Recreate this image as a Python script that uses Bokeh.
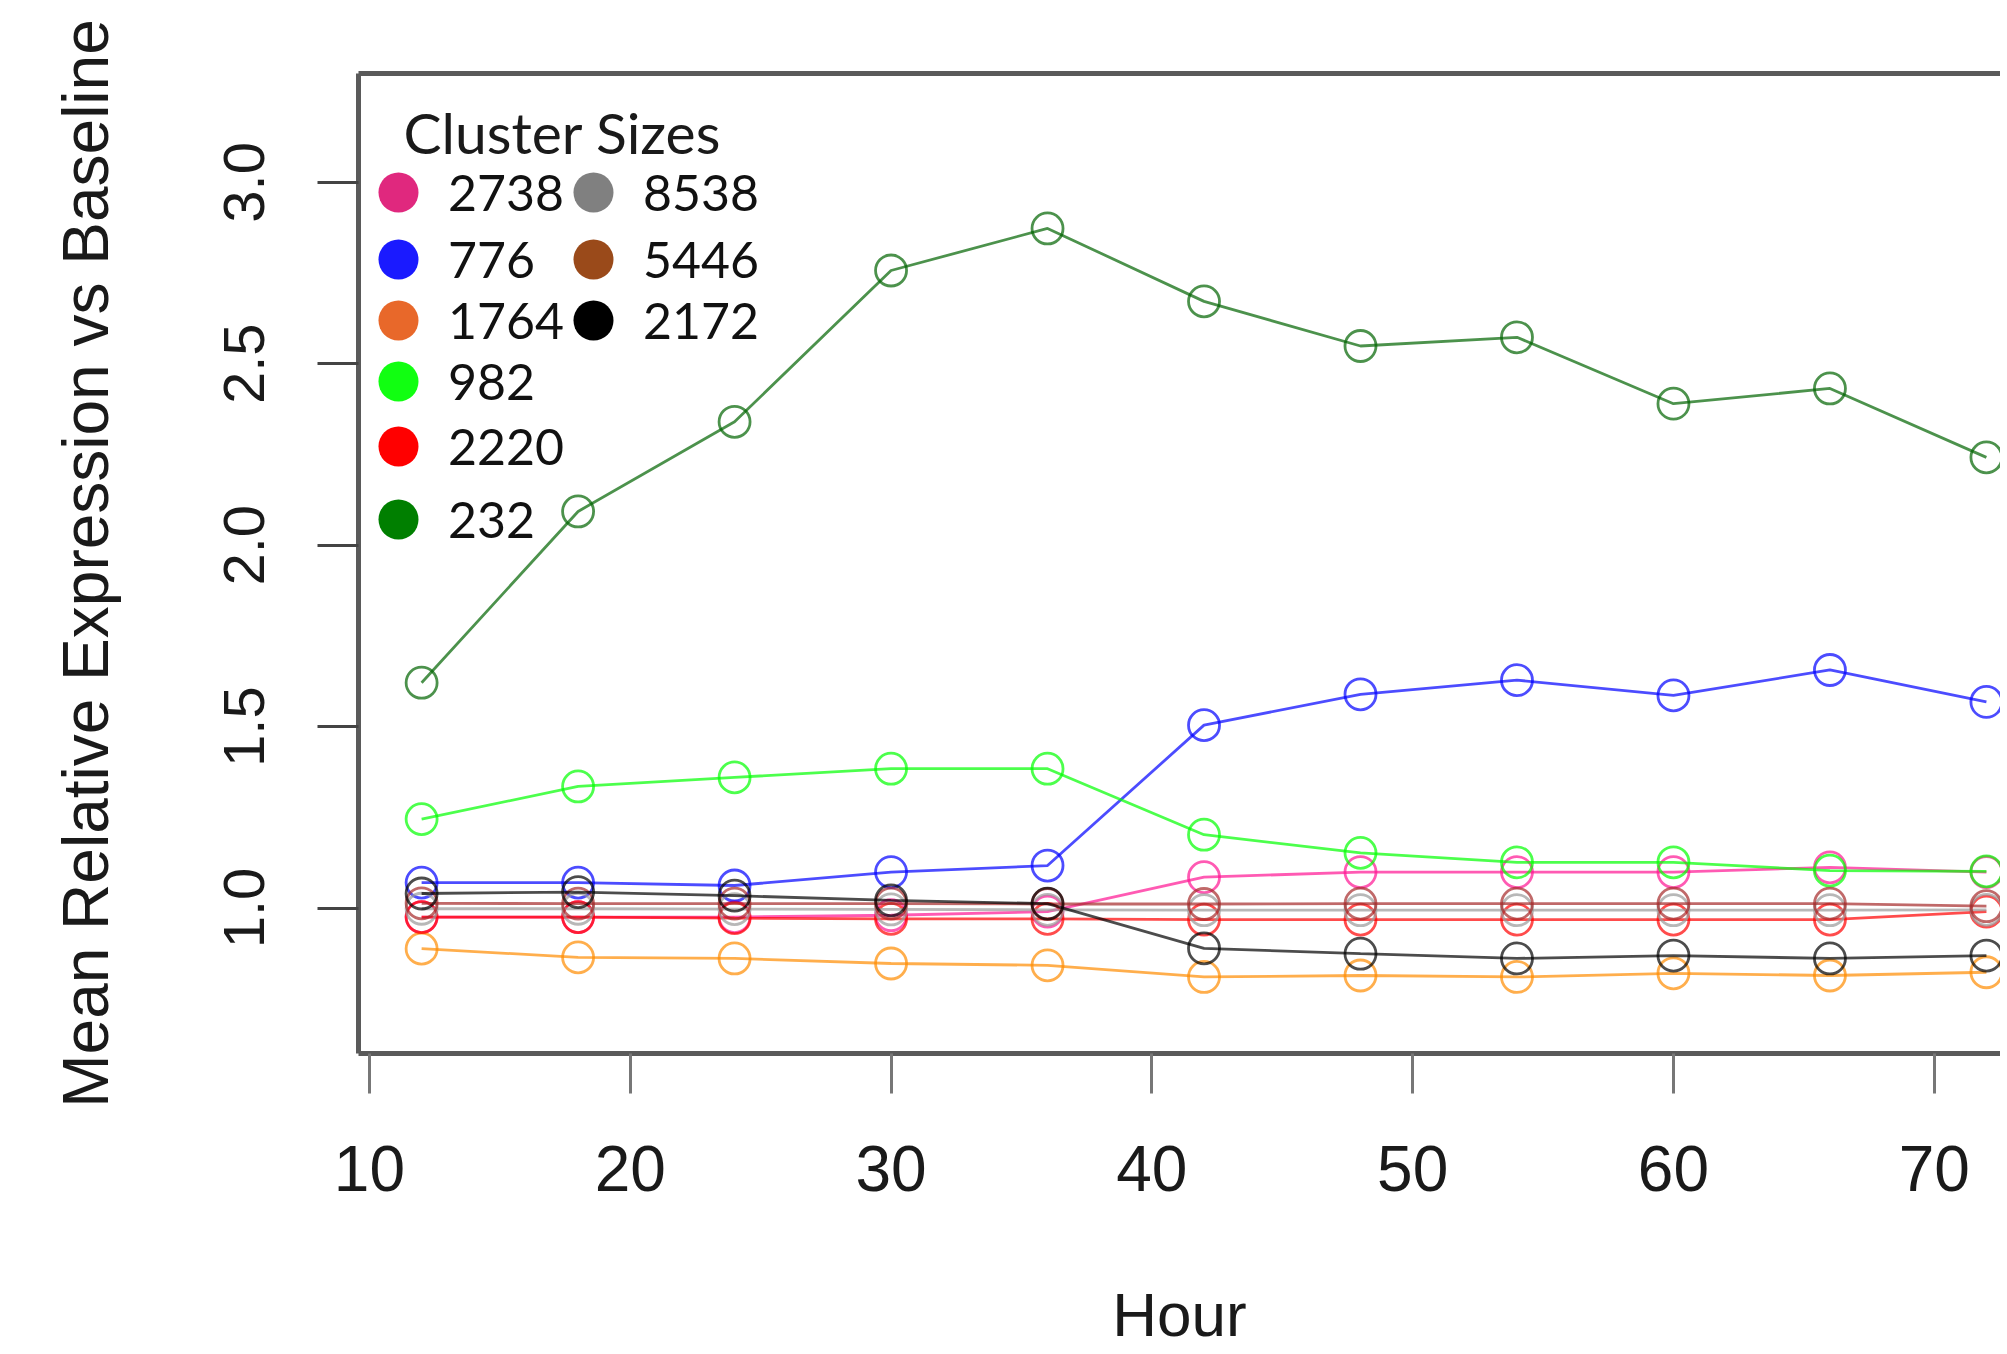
from bokeh.plotting import figure
from bokeh.models import (Range1d, LinearAxis, FixedTicker, Legend, LegendItem,
                          ColumnDataSource, Label, PrintfTickFormatter)
from bokeh.embed import file_html
from bokeh.resources import INLINE

# ---- data -------------------------------------------------------------
hours = [12, 18, 24, 30, 36, 42, 48, 54, 60, 66, 72]

c2738 = [0.975, 0.975, 0.975, 0.980, 0.990, 1.085, 1.099, 1.099, 1.099, 1.112, 1.099]
c776 = [1.070, 1.070, 1.062, 1.099, 1.117, 1.504, 1.589, 1.628, 1.586, 1.656, 1.568]
c1764 = [0.888, 0.864, 0.861, 0.847, 0.842, 0.810, 0.814, 0.810, 0.820, 0.814, 0.823]
c982 = [1.245, 1.335, 1.360, 1.384, 1.384, 1.202, 1.152, 1.126, 1.126, 1.103, 1.101]
c2220 = [0.975, 0.975, 0.972, 0.970, 0.970, 0.968, 0.968, 0.968, 0.968, 0.968, 0.990]
c232 = [1.621, 2.093, 2.340, 2.757, 2.873, 2.672, 2.549, 2.573, 2.390, 2.432, 2.242]
c8538 = [0.998, 0.998, 0.997, 0.996, 0.995, 0.994, 0.994, 0.994, 0.994, 0.994, 0.995]
c5446 = [1.013, 1.012, 1.012, 1.012, 1.011, 1.011, 1.012, 1.012, 1.012, 1.012, 1.005]
c2172 = [1.040, 1.044, 1.034, 1.021, 1.012, 0.889, 0.874, 0.861, 0.869, 0.861, 0.869]

series_labels = ["2738", "776", "1764", "982", "2220", "232", "8538", "5446", "2172"]
series_values = [c2738, c776, c1764, c982, c2220, c232, c8538, c5446, c2172]
line_colors = ["#FF1493", "#0000FF", "#FF8C00", "#00FF00", "#FF0000", "#006400",
               "#9A9A9A", "#A52A2A", "#000000"]
legend_colors = ["#E0287E", "#1A1AFF", "#E8682A", "#11FF11", "#FF0000", "#007F00",
                 "#808080", "#9A4A1A", "#000000"]

x_ticks = [10, 20, 30, 40, 50, 60, 70]
y_ticks = [1.0, 1.5, 2.0, 2.5, 3.0]
x_title = "Hour"
y_title = "Mean Relative Expression vs Baseline"
legend_title = "Cluster Sizes"

# ---- layout constants (page pixels) ----------------------------------
FRAME_LEFT, FRAME_TOP, FRAME_BOTTOM = 358, 73, 1053
FIG_W, FIG_H = 2000, 1354

p = figure(width=FIG_W, height=FIG_H, output_backend="svg", toolbar_location=None,
           x_range=Range1d(9.58, 72.54), y_range=Range1d(0.599, 3.30),
           min_border_left=FRAME_LEFT, min_border_top=FRAME_TOP,
           min_border_bottom=FIG_H - FRAME_BOTTOM, min_border_right=0)
p.outline_line_color = None
p.xgrid.visible = False
p.ygrid.visible = False
p.background_fill_color = "white"
p.border_fill_color = "white"

AX = "#5a5a5a"
FONT = "Liberation Sans"
TXT = "#1a1a1a"

xa = p.xaxis[0]
xa.ticker = FixedTicker(ticks=x_ticks)
xa.axis_label = x_title
xa.axis_line_color = AX
xa.axis_line_width = 5
xa.major_tick_line_color = "#777777"
xa.major_tick_line_width = 3
xa.major_tick_out = 40
xa.major_tick_in = 0
xa.minor_tick_line_color = None
xa.major_label_text_font = FONT
xa.major_label_text_font_size = "64px"
xa.major_label_text_color = TXT
xa.major_label_standoff = 52
xa.axis_label_text_font = FONT
xa.axis_label_text_font_size = "62px"
xa.axis_label_text_font_style = "normal"
xa.axis_label_text_color = TXT
xa.axis_label_standoff = 86

ya = p.yaxis[0]
ya.ticker = FixedTicker(ticks=y_ticks)
ya.formatter = PrintfTickFormatter(format="%.1f")
ya.axis_label = y_title
ya.axis_line_color = AX
ya.axis_line_width = 5
ya.major_tick_line_color = "#444444"
ya.major_tick_line_width = 3
ya.major_tick_out = 41
ya.major_tick_in = 0
ya.minor_tick_line_color = None
ya.major_label_orientation = "vertical"
ya.major_label_text_font = FONT
ya.major_label_text_font_size = "58px"
ya.major_label_text_color = TXT
ya.major_label_standoff = 53
ya.axis_label_text_font = FONT
ya.axis_label_text_font_size = "64px"
ya.axis_label_text_font_style = "normal"
ya.axis_label_text_color = TXT
ya.axis_label_standoff = 100

top = LinearAxis(ticker=FixedTicker(ticks=[]), axis_line_color=AX, axis_line_width=5,
                 major_tick_line_color=None, minor_tick_line_color=None,
                 major_label_text_font_size="0px")
p.add_layout(top, "above")

# ---- series -----------------------------------------------------------
legend_renderers = []
for lab, vals, col, lcol in zip(series_labels, series_values, line_colors, legend_colors):
    src = ColumnDataSource(dict(x=hours, y=vals))
    p.line("x", "y", source=src, line_color=col, line_alpha=0.7, line_width=2.8)
    p.scatter("x", "y", source=src, marker="circle", size=31, fill_color=None,
              line_color=col, line_alpha=0.7, line_width=2.8)
    # hidden renderer, only used to draw the legend swatch
    r = p.scatter("x", "y", source=src, marker="circle", size=10,
                  fill_color=lcol, line_color=None, visible=False)
    legend_renderers.append(r)

# ---- legend (one small legend per entry, arranged like the reference) --
ROW_CY = [192, 259, 320, 381, 446, 519]
COL_CX = [398, 593]
slots = [(0, 0), (0, 1), (0, 2), (0, 3), (0, 4), (0, 5), (1, 0), (1, 1), (1, 2)]
G = 100
for lab, r, (c, row) in zip(series_labels, legend_renderers, slots):
    cx, cy = COL_CX[c], ROW_CY[row]
    lg = Legend(items=[LegendItem(label=lab, renderers=[r])],
                location=(cx - G // 2 - FRAME_LEFT, FRAME_BOTTOM - cy - G // 2),
                glyph_width=G, glyph_height=G, label_standoff=-5, padding=0, margin=0,
                label_text_font="Lato", label_text_font_size="50px",
                label_text_color="#111111", click_policy="none",
                border_line_color=None, background_fill_alpha=0)
    p.add_layout(lg, "center")

p.add_layout(Label(x=45, y=FRAME_BOTTOM - 131, x_units="screen", y_units="screen",
                   text=legend_title, text_font="Lato", text_font_size="57px",
                   text_color=TXT, text_baseline="middle", text_align="left"))

open("out.html", "w").write(file_html(p, INLINE))
